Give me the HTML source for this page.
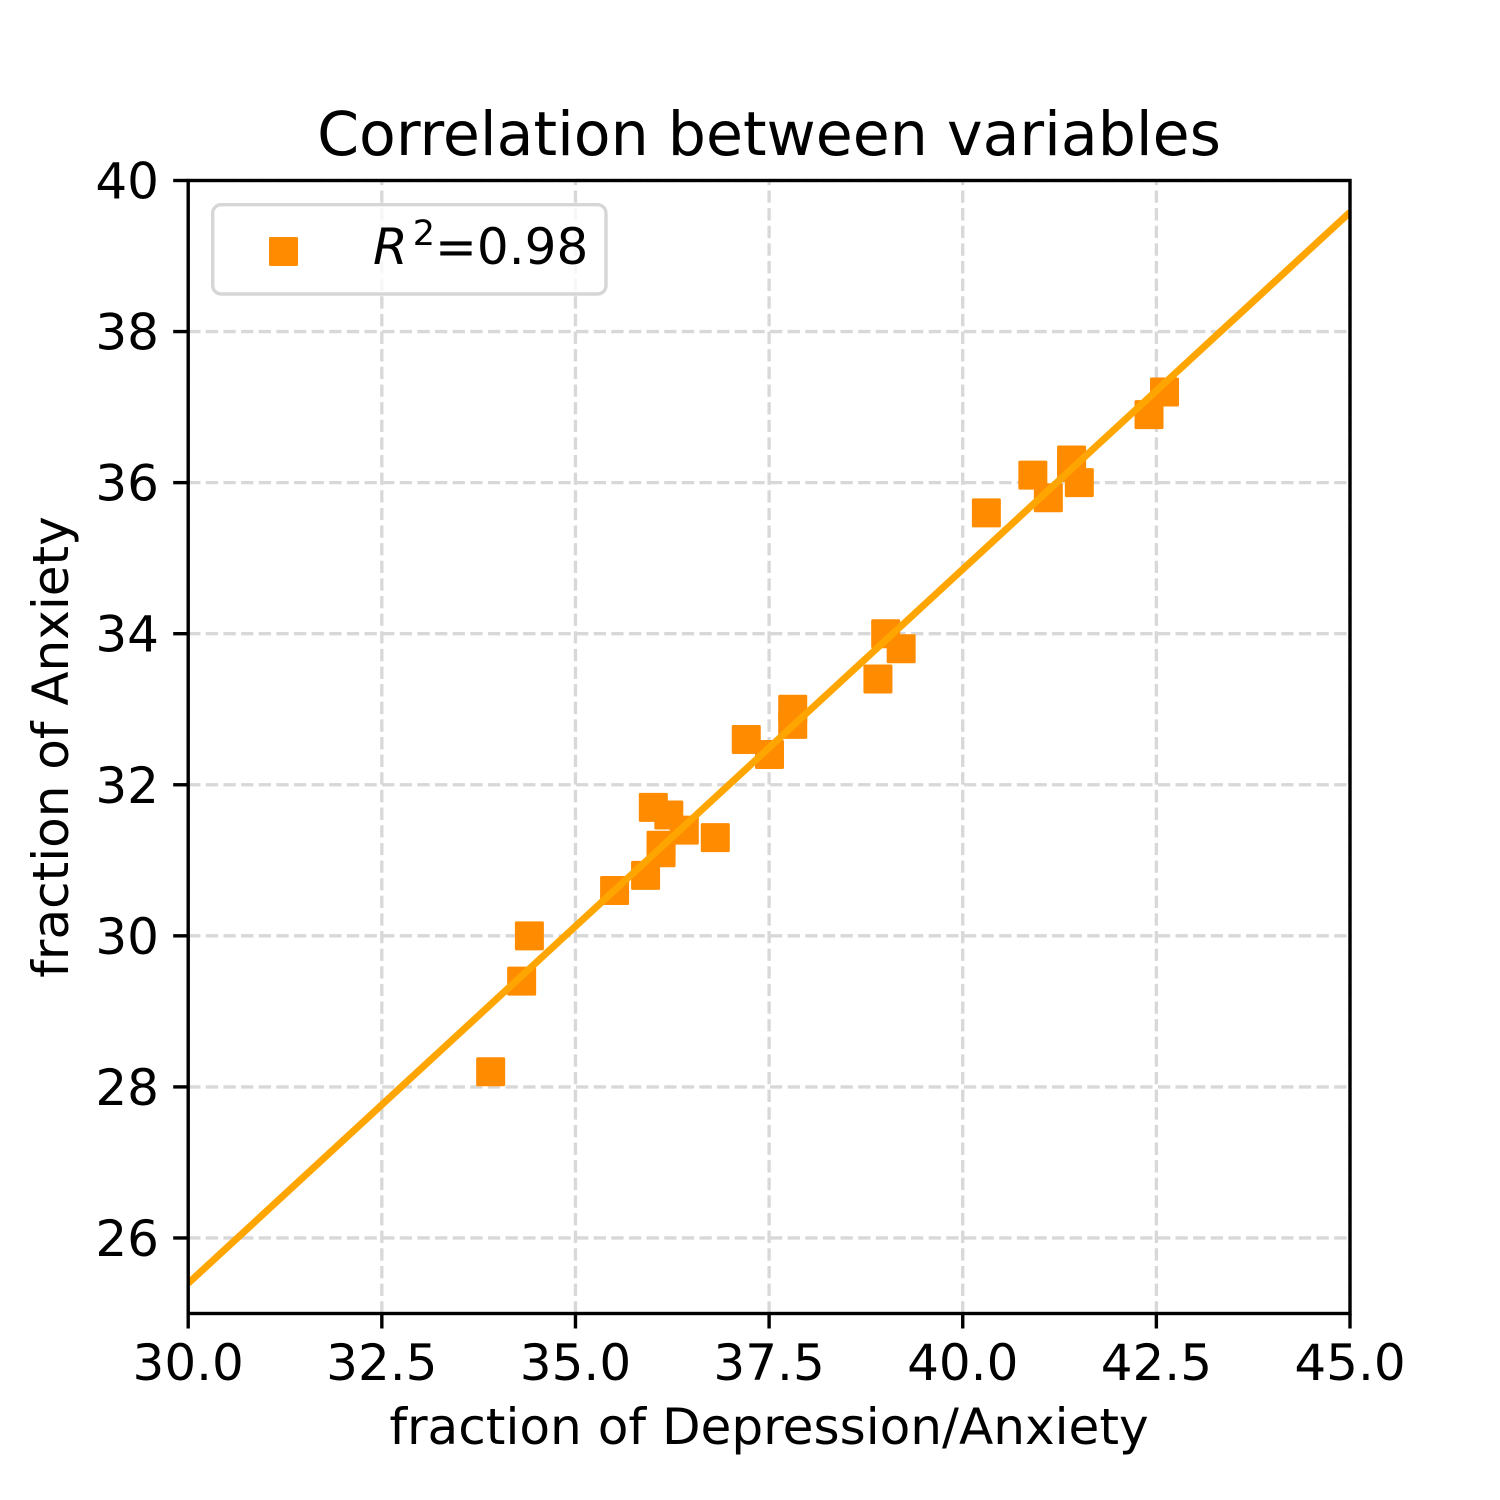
<!DOCTYPE html>
<html lang="en">
<head>
<meta charset="utf-8">
<title>Correlation between variables</title>
<style>
html,body{margin:0;padding:0;background:#fff;}
svg{display:block;}
text{font-family:"DejaVu Sans",sans-serif;fill:#000;}
</style>
</head>
<body>
<svg id="chart" xmlns="http://www.w3.org/2000/svg" width="1500" height="1500" viewBox="0 0 1500 1500">
<defs><clipPath id="plot-clip"><rect id="plot-clip-rect" x="188" y="180" width="1162" height="1133"/></clipPath></defs>
<rect x="0" y="0" width="1500" height="1500" fill="#fff"/>
<g id="grid"></g>
<g id="points"></g>
<g id="fit" clip-path="url(#plot-clip)"></g>
<g id="axes"></g>
<g>
<rect x="212.7" y="204.7" width="393.3" height="89.3" rx="8.5" ry="8.5" fill="#fff" fill-opacity="0.8" stroke="#d6d6d6" stroke-width="3.4"/>
<rect x="269" y="237" width="29" height="29" rx="1.5" fill="#ff8c00"/>
<text x="373" y="264" font-size="50"><tspan font-style="italic">R</tspan><tspan dx="5" dy="-19" font-size="35">2</tspan><tspan dy="19">=0.98</tspan></text>
</g>
<text x="769" y="155" font-size="60.15" text-anchor="middle">Correlation between variables</text>
<text x="769" y="1444" font-size="50.12" text-anchor="middle">fraction of Depression/Anxiety</text>
<text transform="translate(68,747) rotate(-90)" font-size="50" text-anchor="middle">fraction of Anxiety</text>
</svg>
<script>
const xTicks = [30, 32.5, 35, 37.5, 40, 42.5, 45];
const yTicks = [26, 28, 30, 32, 34, 36, 38, 40];
const xTickLabels = ['30.0', '32.5', '35.0', '37.5', '40.0', '42.5', '45.0'];
const yTickLabels = ['26', '28', '30', '32', '34', '36', '38', '40'];
const depression = [33.9, 34.3, 34.4, 35.5, 35.9, 36.1, 36.1, 36.0, 36.2, 36.4, 36.8, 37.2, 37.5, 37.8, 37.8, 38.9, 39.0, 39.2, 40.3, 40.9, 41.1, 41.4, 41.4, 41.5, 42.4, 42.6];
const anxiety = [28.2, 29.4, 30.0, 30.6, 30.8, 31.1, 31.2, 31.7, 31.6, 31.4, 31.3, 32.6, 32.4, 32.8, 33.0, 33.4, 34.0, 33.8, 35.6, 36.1, 35.8, 36.3, 36.2, 36.0, 36.9, 37.2];
const fitX = [30, 45];
const fitY = [25.4, 39.58];
const xDomain = [30, 45];
const yDomain = [25, 40];

const NS = 'http://www.w3.org/2000/svg';
const L = 188.2, R = 1350, T = 180.5, B = 1313.5;
const sx = v => L + (v - xDomain[0]) / (xDomain[1] - xDomain[0]) * (R - L);
const sy = v => B - (v - yDomain[0]) / (yDomain[1] - yDomain[0]) * (B - T);
function mk(parent, tag, attrs) {
  const el = document.createElementNS(NS, tag);
  for (const k in attrs) el.setAttribute(k, attrs[k]);
  parent.appendChild(el);
  return el;
}
const gridG = document.getElementById('grid');
const ptsG = document.getElementById('points');
const fitG = document.getElementById('fit');
const axG = document.getElementById('axes');

xTicks.forEach(function (t) {
  const x = sx(t);
  const el = mk(gridG, 'line', {x1: x, x2: x, y1: B, y2: T, stroke: '#d8d8d8', 'stroke-width': 3.33, 'stroke-dasharray': '12.3 5.33'});
  
  
});
yTicks.forEach(function (t) {
  const y = sy(t);
  const el = mk(gridG, 'line', {x1: L, x2: R, y1: y, y2: y, stroke: '#d8d8d8', 'stroke-width': 3.33, 'stroke-dasharray': '12.3 5.33'});
  
  
});
depression.forEach(function (d, i) {
  const s = 29;
  const el = mk(ptsG, 'rect', {x: sx(d) - s / 2 + 0.4, y: sy(anxiety[i]) - s / 2, width: s, height: s, rx: 1.5, fill: '#ff8c00'});
  
  
});
const fitLine = mk(fitG, 'line', {x1: sx(fitX[0]), y1: sy(fitY[0]), x2: sx(fitX[1]), y2: sy(fitY[1]), stroke: '#ffa500', 'stroke-width': 7});



const frame = mk(axG, 'rect', {x: L, y: T, width: R - L, height: B - T, fill: 'none', stroke: '#000', 'stroke-width': 3.4});



xTicks.forEach(function (t, i) {
  const x = sx(t);
  const tick = mk(axG, 'line', {x1: x, x2: x, y1: B, y2: B + 15, stroke: '#000', 'stroke-width': 3.4});
  
  
  const lab = mk(axG, 'text', {x: x, y: 1380, 'font-size': 50, 'text-anchor': 'middle'});
  lab.textContent = xTickLabels[i];
  
  
});
yTicks.forEach(function (t, i) {
  const y = sy(t);
  const tick = mk(axG, 'line', {x1: L - 15, x2: L, y1: y, y2: y, stroke: '#000', 'stroke-width': 3.4});
  
  
  const lab = mk(axG, 'text', {x: 159, y: y + 18, 'font-size': 50, 'text-anchor': 'end'});
  lab.textContent = yTickLabels[i];
  
  
});
</script>
</body>
</html>
